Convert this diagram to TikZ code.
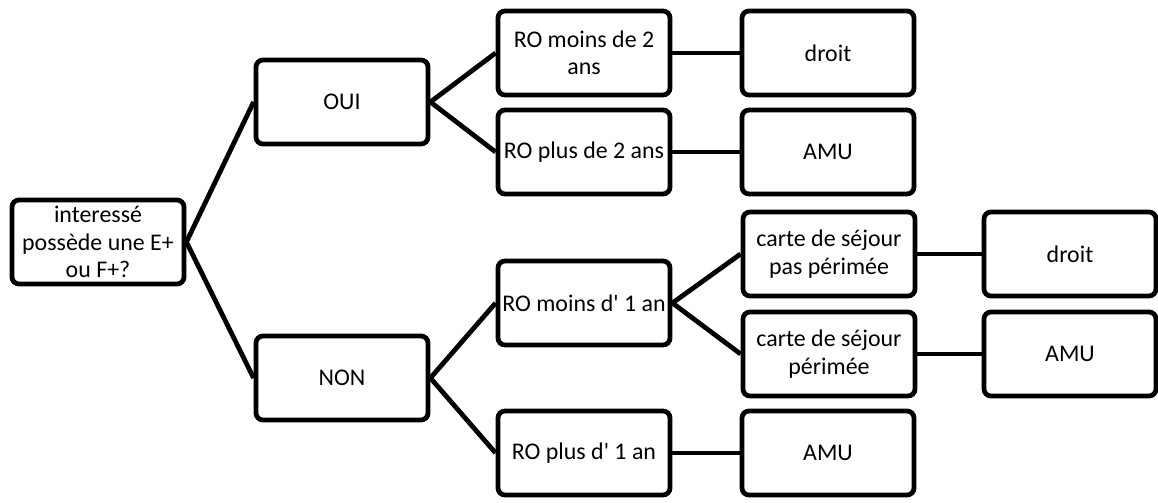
\documentclass[tikz,border=0pt]{standalone}
\usepackage{fontspec}
\setmainfont{Carlito}
\begin{document}
\begin{tikzpicture}[x=0.025cm,y=-0.025cm,
	box/.style={draw,line width=3.4pt,rounded corners=5pt,minimum width=4.3cm,minimum height=2.1cm,align=center,inner sep=1pt,font=\fontsize{17}{19.5}\selectfont},
	link/.style={line width=3.4pt}]
				\useasboundingbox (0,0) rectangle (1158,503);
				
				\draw (98,242) node[box] (root) {interessé\\possède une E+\\ou F+?};
				\draw (342,102) node[box] (oui) {OUI};
				\draw (342,378) node[box] (non) {NON};
				
				\draw (584,53) node[box] (rom2) {RO moins de 2\\ans};
				\draw (584,152) node[box] (rop2) {RO plus de 2 ans};
				\draw (584,303) node[box] (rom1) {RO moins d\textquotesingle{} 1 an};
				\draw (584,453) node[box] (rop1) {RO plus d\textquotesingle{} 1 an};
				
				\draw (828,53) node[box] (droitA) {droit};
				\draw (828,152) node[box] (amuA) {AMU};
				\draw (829,254) node[box] (carteA) {carte de séjour\\pas périmée};
				\draw (829,354) node[box] (carteB) {carte de séjour\\périmée};
				\draw (828,453) node[box] (amuC) {AMU};
				
				\draw (1070,254) node[box] (droitB) {droit};
				\draw (1070,354) node[box] (amuB) {AMU};
				
				\draw[link] (root.east) -- (oui.west);
				\draw[link] (root.east) -- (non.west);
				\draw[link] (oui.east) -- (rom2.west);
				\draw[link] (oui.east) -- (rop2.west);
				\draw[link] (non.east) -- (rom1.west);
				\draw[link] (non.east) -- (rop1.west);
				\draw[link] (rom2) -- (droitA);
				\draw[link] (rop2) -- (amuA);
				\draw[link] (rom1.east) -- (carteA.west);
				\draw[link] (rom1.east) -- (carteB.west);
				\draw[link] (rop1) -- (amuC);
				\draw[link] (carteA) -- (droitB);
				\draw[link] (carteB) -- (amuB);
			\end{tikzpicture}
\end{document}
